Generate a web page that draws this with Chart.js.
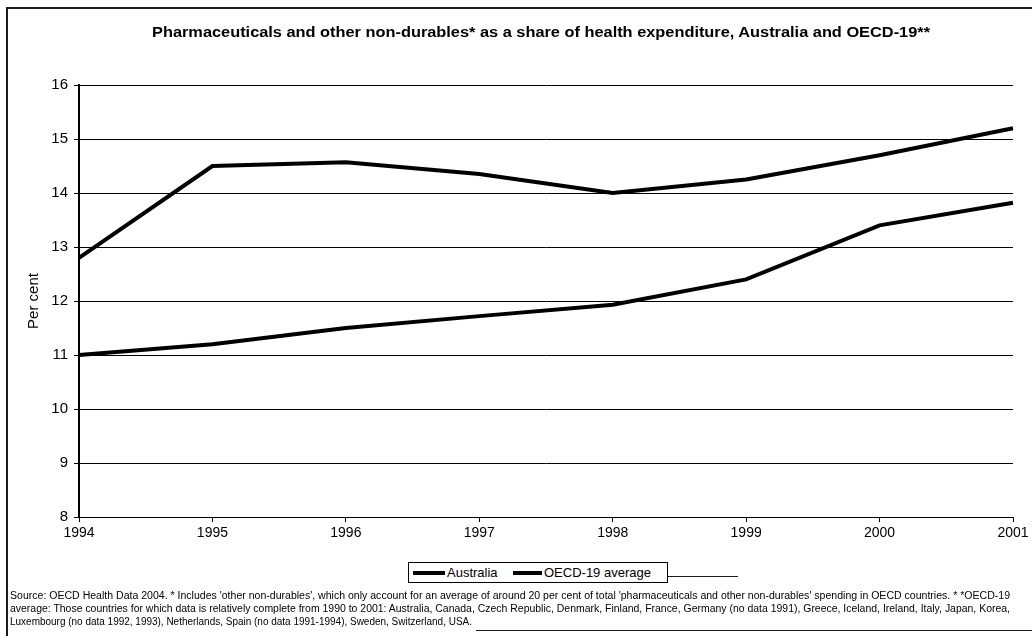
<!DOCTYPE html>
<html>
<head>
<meta charset="utf-8">
<script src="https://cdn.jsdelivr.net/npm/chart.js@4.4.1/dist/chart.umd.min.js"></script>
<style>
  html, body { margin: 0; padding: 0; background: #fff; }
  #wrap { position: relative; width: 1032px; height: 636px; overflow: hidden; font-family: "Liberation Sans", Arial, sans-serif; color: #000; }
  #chart { position: absolute; left: 0; top: 0; }
  .rule { position: absolute; background: #1a1a1a; }
  #title { position: absolute; left: 152px; top: 24px; font-size: 14px; font-weight: bold; line-height: 16px; white-space: nowrap; transform-origin: 0 50%; }
  #legend { position: absolute; left: 408px; top: 562px; width: 258px; height: 19px; border: 1px solid #000; box-sizing: content-box; background: #fff; }
  #legend .item { position: absolute; top: 0; height: 19px; display: flex; align-items: center; font-size: 13px; white-space: nowrap; }
  #legend .swatch { display: inline-block; height: 4px; margin-right: 2px; }
  .note { position: absolute; left: 10px; font-size: 10px; line-height: 13px; white-space: nowrap; transform-origin: 0 50%; }
</style>
</head>
<body>
<div id="wrap">
  <canvas id="chart" width="1032" height="636"></canvas>
  <div class="rule" style="left:6px; top:7px; width:1026px; height:2px;"></div>
  <div class="rule" style="left:6px; top:9px; width:2px; height:627px;"></div>
  <div class="rule" style="left:476px; top:630px; width:556px; height:1px;"></div>
  <div class="rule" style="left:668px; top:576px; width:70px; height:1px;"></div>
  <div id="title"></div>
  <div id="legend"></div>
  <div class="note" id="note1" style="top:589px;">Source: OECD Health Data 2004. * Includes 'other non-durables', which only account for an average of around 20 per cent of total 'pharmaceuticals and other non-durables' spending in OECD countries. * *OECD-19</div>
  <div class="note" id="note2" style="top:602px;">average: Those countries for which data is relatively complete from 1990 to 2001: Australia, Canada, Czech Republic, Denmark, Finland, France, Germany (no data 1991), Greece, Iceland, Ireland, Italy, Japan, Korea,</div>
  <div class="note" id="note3" style="top:615px;">Luxembourg (no data 1992, 1993), Netherlands, Spain (no data 1991-1994), Sweden, Switzerland, USA.</div>
</div>
<script>
// Years on the horizontal axis
const years = ['1994', '1995', '1996', '1997', '1998', '1999', '2000', '2001'];

// Pharmaceuticals and other non-durables, per cent of health expenditure
const australia = [11.0, 11.2, 11.5, 11.72, 11.93, 12.4, 13.4, 13.82];
const oecd19 = [12.8, 14.5, 14.57, 14.35, 14.0, 14.25, 14.7, 15.2];

// Vertical axis range
const yMin = 8;
const yMax = 16;
const yStep = 1;

const chartTitle = 'Pharmaceuticals and other non-durables* as a share of health expenditure, Australia and OECD-19**';

const FONT = '"Liberation Sans", Arial, sans-serif';

const chart = new Chart(document.getElementById('chart'), {
  type: 'line',
  data: {
    labels: years,
    datasets: [
      { label: 'Australia', data: australia, borderColor: '#000', backgroundColor: '#000', borderWidth: 4, pointRadius: 0, tension: 0, fill: false },
      { label: 'OECD-19 average', data: oecd19, borderColor: '#000', backgroundColor: '#000', borderWidth: 4, pointRadius: 0, tension: 0, fill: false }
    ]
  },
  options: {
    responsive: false,
    animation: false,
    events: [],
    layout: { padding: { left: 0, right: 19, top: 85, bottom: 0 } },
    plugins: {
      legend: { display: false },
      tooltip: { enabled: false },
      title: { display: false }
    },
    scales: {
      x: {
        type: 'category',
        offset: false,
        grid: { display: true, drawOnChartArea: false, drawTicks: true, tickLength: 5, color: '#000', lineWidth: 1 },
        border: { display: true, color: '#000', width: 1 },
        ticks: { color: '#000', font: { family: FONT, size: 14 }, padding: 3, maxRotation: 0, autoSkip: false },
        afterFit: (scale) => { scale.height = 119; }
      },
      y: {
        min: yMin,
        max: yMax,
        grid: { color: '#000', lineWidth: 1, tickLength: 5 },
        border: { display: true, color: '#000', width: 2 },
        ticks: { stepSize: yStep, color: '#000', font: { family: FONT, size: 15 }, padding: 6 },
        title: { display: true, text: 'Per cent', color: '#000', font: { family: FONT, size: 15 }, padding: { top: 25, bottom: 0 } },
        afterFit: (scale) => { scale.width = 79; }
      }
    }
  }
});

// Title, stretched to its printed width
const titleEl = document.getElementById('title');
titleEl.textContent = chartTitle;
titleEl.style.transform = 'scaleX(' + (778 / titleEl.getBoundingClientRect().width) + ')';

// Boxed legend built from the chart's datasets
const legend = document.getElementById('legend');
const legendX = [4, 104];
const swatchW = [32, 29];
chart.data.datasets.forEach((ds, i) => {
  const item = document.createElement('div');
  item.className = 'item';
  item.style.left = legendX[i] + 'px';
  const sw = document.createElement('span');
  sw.className = 'swatch';
  sw.style.width = swatchW[i] + 'px';
  sw.style.background = ds.borderColor;
  const tx = document.createElement('span');
  tx.textContent = ds.label;
  item.appendChild(sw);
  item.appendChild(tx);
  legend.appendChild(item);
});

// Fit each footnote line to its printed width
[['note1', 1000], ['note2', 1000], ['note3', 462]].forEach(([id, w]) => {
  const el = document.getElementById(id);
  const natural = el.getBoundingClientRect().width;
  el.style.transform = 'scaleX(' + (w / natural) + ')';
});
</script>
</body>
</html>
